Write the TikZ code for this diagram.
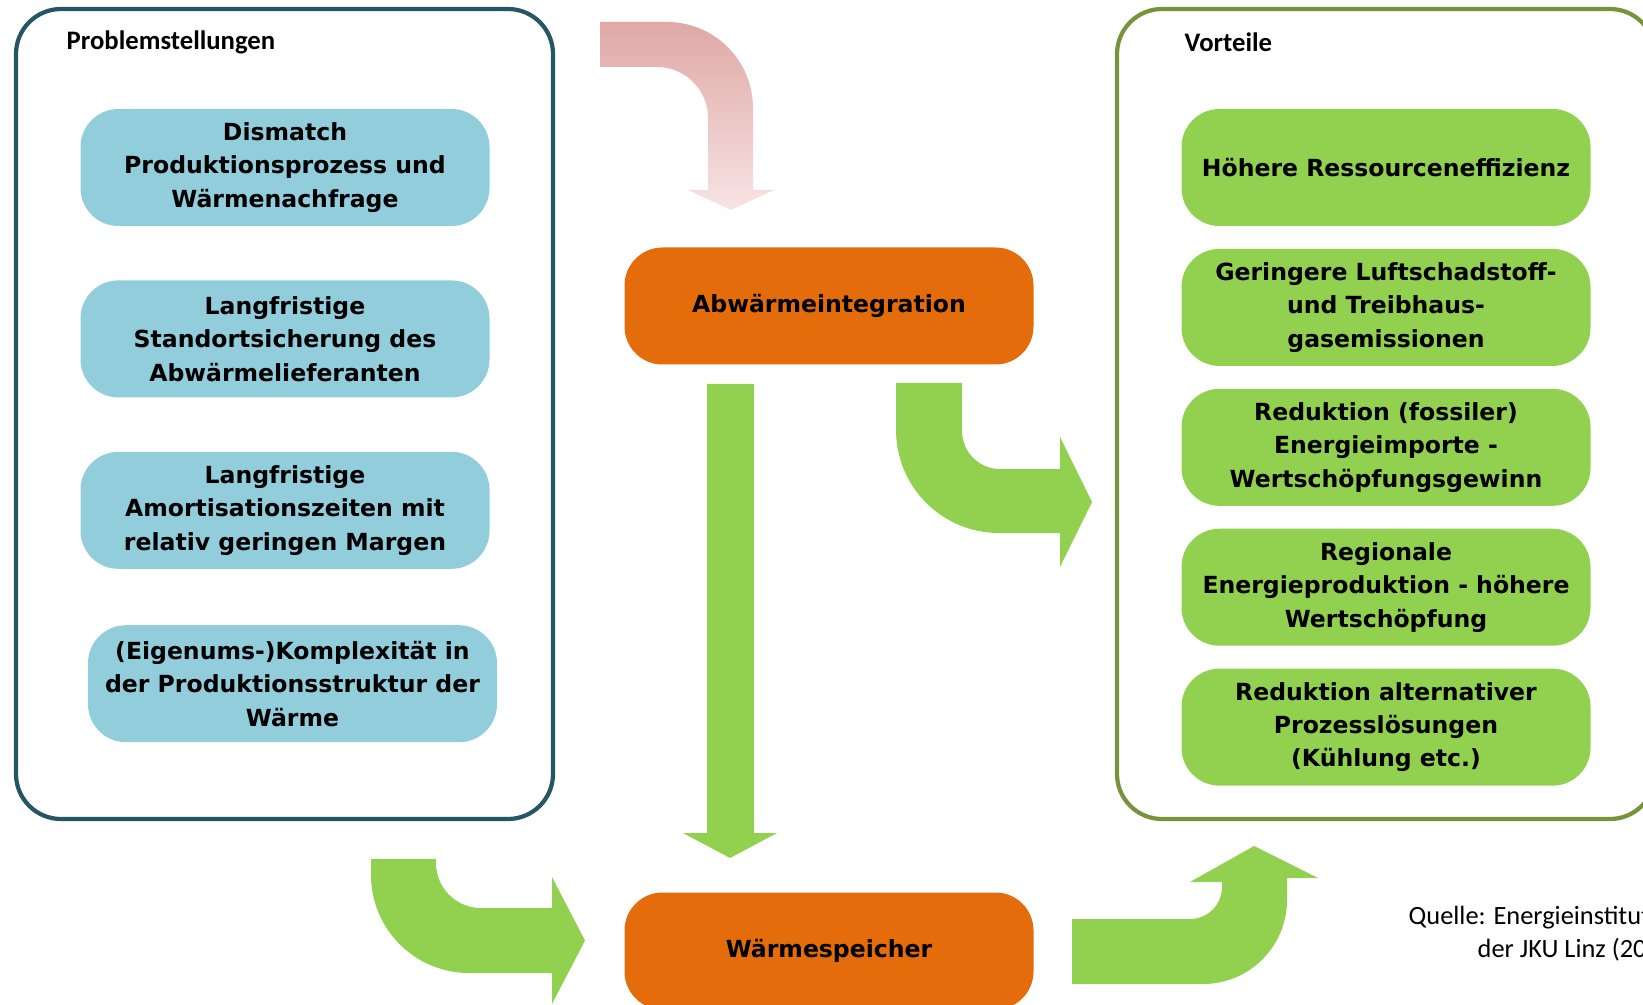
\documentclass[tikz,border=0pt]{standalone}
\usepackage{fontspec}
\setmainfont{DejaVu Sans}
\newfontfamily\calibri{Carlito}
\usetikzlibrary{positioning}

\definecolor{problemblau}{RGB}{146,205,220}
\definecolor{vorteilgruen}{RGB}{146,208,80}
\definecolor{abwaermeorange}{RGB}{228,108,10}
\definecolor{randblau}{RGB}{38,86,100}
\definecolor{randoliv}{RGB}{119,147,60}
\definecolor{rosadunkel}{RGB}{223,168,166}
\definecolor{rosahell}{RGB}{247,228,228}

\begin{document}
\begin{tikzpicture}[
    kasten/.style={rounded corners=0.38cm, minimum width=4.09cm, minimum height=1.17cm,
        inner sep=0pt, align=center, font=\fontsize{6.7}{9.5}\selectfont\bfseries},
    problem/.style={kasten, fill=problemblau},
    vorteil/.style={kasten, fill=vorteilgruen},
    prozess/.style={kasten, fill=abwaermeorange},
    rahmen/.style={rounded corners=0.45cm, line width=1.2pt},
    titel/.style={anchor=base west, inner sep=0pt, font=\calibri\bfseries\fontsize{7.6}{9}\selectfont},
    quellentext/.style={anchor=base west, inner sep=0pt, font=\calibri\fontsize{7.5}{9}\selectfont},
    pfeil/.style={fill=vorteilgruen}]
    \useasboundingbox (0,0) rectangle (16.43,-10.05);

    % Rahmen links und rechts
    \draw[rahmen, randblau] (0.16,-0.09) rectangle (5.53,-8.19);
    \draw[rahmen, randoliv] (11.17,-0.09) rectangle (16.55,-8.19);
    \node[titel] (titelproblem) at (0.66,-0.50) {Problemstellungen};
    \node[titel] (titelvorteil) at (11.84,-0.52) {Vorteile};

    % Problemstellungen
    \node[problem] (dismatch) at (2.85,-1.675) {Dismatch\\Produktionsprozess und\\Wärmenachfrage};
    \node[problem, below=0.53cm of dismatch] (standort) {Langfristige\\Standortsicherung des\\Abwärmelieferanten};
    \node[problem, below=0.53cm of standort] (amortisation) {Langfristige\\Amortisationszeiten mit\\relativ geringen Margen};
    \node[problem, below=0.55cm of amortisation, xshift=0.75mm] (komplex) {(Eigenums-)Komplexität in\\der Produktionsstruktur der\\Wärme};

    % Vorteile
    \node[vorteil] (effizienz) at (13.86,-1.675) {Höhere Ressourceneffizienz};
    \node[vorteil, below=0.215cm of effizienz] (emission) {Geringere Luftschadstoff-\\und Treibhaus-\\gasemissionen};
    \node[vorteil, below=0.215cm of emission] (import) {Reduktion (fossiler)\\Energieimporte -\\Wertschöpfungsgewinn};
    \node[vorteil, below=0.215cm of import] (regional) {Regionale\\Energieproduktion - höhere\\Wertschöpfung};
    \node[vorteil, below=0.215cm of regional] (kuehlung) {Reduktion alternativer\\Prozesslösungen\\(Kühlung etc.)};

    % Mitte
    \node[prozess] (integration) at (8.29,-3.06) {Abwärmeintegration};
    \node[prozess] (speicher) at (8.29,-9.51) {Wärmespeicher};

    % Blockpfeile
    \shade[top color=rosadunkel, bottom color=rosahell]
      (6.00,-0.22) -- (6.67,-0.22) arc[start angle=90, end angle=0, radius=0.86]
      -- (7.53,-1.90) -- (7.74,-1.90) -- (7.31,-2.10) -- (6.88,-1.90) -- (7.08,-1.90)
      -- (7.08,-1.18) arc[start angle=0, end angle=90, radius=0.51] -- (6.00,-0.67) -- cycle;
    \fill[pfeil] (7.07,-3.84) -- (7.54,-3.84) -- (7.54,-8.33) -- (7.77,-8.33) -- (7.30,-8.58)
      -- (6.83,-8.33) -- (7.07,-8.33) -- cycle;
    \fill[pfeil] (8.96,-3.83) -- (8.96,-4.30) arc[start angle=180, end angle=270, radius=1.03]
      -- (10.60,-5.33) -- (10.60,-5.67) -- (10.92,-5.02) -- (10.60,-4.37) -- (10.60,-4.69)
      -- (10.00,-4.69) arc[start angle=270, end angle=180, radius=0.38] -- (9.62,-3.83) -- cycle;
    \fill[pfeil] (3.71,-8.59) -- (3.71,-8.75) arc[start angle=180, end angle=270, radius=0.98]
      -- (5.52,-9.73) -- (5.52,-10.04) -- (5.85,-9.405) -- (5.52,-8.77) -- (5.52,-9.08)
      -- (4.81,-9.08) arc[start angle=270, end angle=180, radius=0.45] -- (4.36,-8.59) -- cycle;
    \fill[pfeil] (10.72,-9.19) -- (11.90,-9.19) arc[start angle=270, end angle=360, radius=0.32]
      -- (12.22,-8.82) -- (11.90,-8.82) -- (12.54,-8.46) -- (13.18,-8.78) -- (12.87,-8.78)
      -- (12.87,-9.00) arc[start angle=0, end angle=-90, radius=0.84] -- (10.72,-9.84) -- cycle;

    \node[quellentext] (quelle) at (14.08,-9.24) {Quelle: Energieinstitut};
    \node[quellentext] (quellejahr) at (14.77,-9.57) {der JKU Linz (20};
\end{tikzpicture}
\end{document}
